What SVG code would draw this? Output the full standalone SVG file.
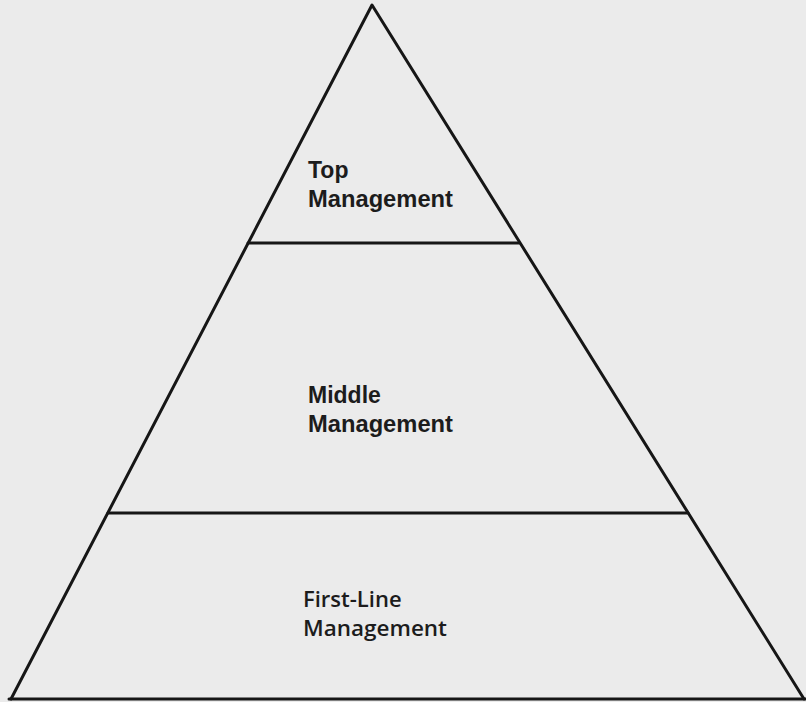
<svg xmlns="http://www.w3.org/2000/svg" width="806" height="702" viewBox="0 0 806 702">
  <style>
    .edge { stroke: #161616; stroke-width: 3; fill: none; stroke-linecap: round; stroke-linejoin: round; }
    .lbl { font-family: "Liberation Sans", Arial, sans-serif; font-weight: bold; font-size: 23px; fill: #1c1c1c; }
    .lbl2 { font-family: "Open Sans", "Liberation Sans", sans-serif; font-weight: 600; font-size: 22px; fill: #1c1c1c; }
  </style>
  <rect width="806" height="702" fill="#ebebeb"/>

  <!-- pyramid outline and tier dividers -->
  <g id="connectors">
    <polyline class="edge" points="11,699 372,5 804,699"/>
    <line class="edge" x1="9" y1="699" x2="806" y2="699" stroke-width="4"/>
    <line class="edge" x1="248" y1="243" x2="519" y2="243"/>
    <line class="edge" x1="108" y1="513" x2="688" y2="513"/>
  </g>

  <g id="top-management">
    <text class="lbl" x="308" y="178">Top</text>
    <text class="lbl" x="308" y="207" textLength="145" lengthAdjust="spacingAndGlyphs">Management</text>
  </g>

  <g id="middle-management">
    <text class="lbl" x="308" y="403">Middle</text>
    <text class="lbl" x="308" y="432" textLength="145" lengthAdjust="spacingAndGlyphs">Management</text>
  </g>

  <g id="first-line-management">
    <text class="lbl2" x="303" y="607">First-Line</text>
    <text class="lbl2" x="303" y="636" textLength="144" lengthAdjust="spacingAndGlyphs">Management</text>
  </g>
</svg>
